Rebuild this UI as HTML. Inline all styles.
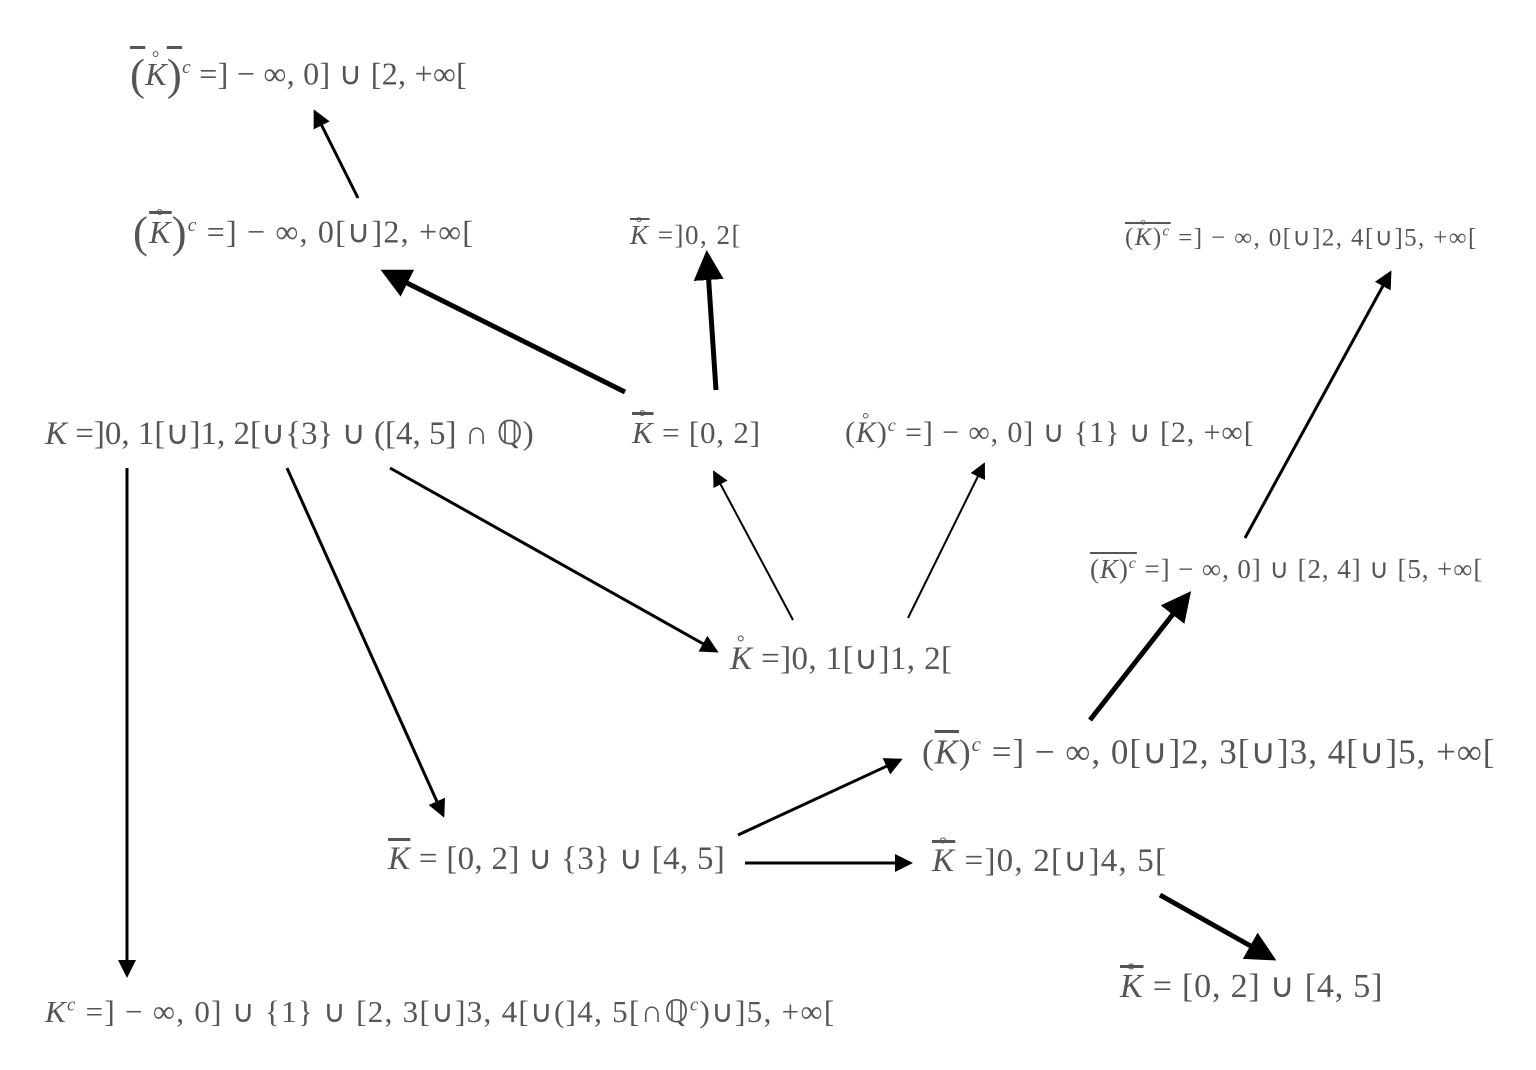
<!DOCTYPE html>
<html><head><meta charset="utf-8"><style>
html,body{margin:0;padding:0;background:#fff;width:1536px;height:1070px;overflow:hidden;position:relative}
.t{position:absolute;font-family:"Liberation Serif",serif;color:#555;white-space:nowrap;line-height:1}
i{font-style:italic}
.ov{text-decoration:overline}
.ring{position:relative;display:inline-block}
.ring:before{content:"°";position:absolute;left:30%;top:-0.45em;font-size:0.6em;font-style:normal}
sup{font-size:0.6em}
.big{font-size:1.4em;vertical-align:-0.1em}
svg{position:absolute;left:0;top:0}
</style></head><body>
<svg width="1536" height="1070" viewBox="0 0 1536 1070">
<defs>
<marker id="a" markerWidth="6" markerHeight="6" refX="5" refY="3" orient="auto" markerUnits="strokeWidth"><path d="M0,0 L6,3 L0,6 z" fill="#000"/></marker>
<marker id="b" markerWidth="8" markerHeight="8" refX="7" refY="4" orient="auto" markerUnits="strokeWidth"><path d="M0,0 L8,4 L0,8 z" fill="#000"/></marker>
</defs>
<g stroke="#000" fill="none">
<line x1="358" y1="198" x2="315" y2="112" stroke-width="3" marker-end="url(#a)"/>
<line x1="625" y1="392" x2="385" y2="272" stroke-width="5" marker-end="url(#a)"/>
<line x1="716" y1="390" x2="707" y2="255" stroke-width="5" marker-end="url(#a)"/>
<line x1="127" y1="468" x2="127" y2="975" stroke-width="3" marker-end="url(#a)"/>
<line x1="287" y1="468" x2="443" y2="815" stroke-width="3" marker-end="url(#a)"/>
<line x1="390" y1="468" x2="716" y2="651" stroke-width="3" marker-end="url(#a)"/>
<line x1="793" y1="620" x2="714" y2="472" stroke-width="2" marker-end="url(#b)"/>
<line x1="908" y1="618" x2="984" y2="464" stroke-width="2" marker-end="url(#b)"/>
<line x1="1245" y1="538" x2="1390" y2="273" stroke-width="3" marker-end="url(#a)"/>
<line x1="1090" y1="720" x2="1188" y2="595" stroke-width="5" marker-end="url(#a)"/>
<line x1="738" y1="835" x2="900" y2="760" stroke-width="3" marker-end="url(#a)"/>
<line x1="745" y1="863" x2="910" y2="863" stroke-width="3" marker-end="url(#a)"/>
<line x1="1160" y1="895" x2="1272" y2="958" stroke-width="5" marker-end="url(#a)"/>
</g></svg>

<div class="t" style="left:130px;top:52px;font-size:32px;letter-spacing:0.3px"><span class="ov"><span class="big">(</span><i class="ring">K</i><span class="big">)</span></span><sup><i>c</i></sup> =] − ∞, 0] ∪ [2, +∞[</div>
<div class="t" style="left:133px;top:210px;font-size:32px;letter-spacing:1.2px"><span class="big">(</span><i class="ring ov">K</i><span class="big">)</span><sup><i>c</i></sup> =] − ∞, 0[∪]2, +∞[</div>
<div class="t" style="left:630px;top:222px;font-size:27px;letter-spacing:1.5px"><i class="ring ov">K</i> =]0, 2[</div>
<div class="t" style="left:1125px;top:225px;font-size:25px;letter-spacing:1.4px"><span class="ov">(<i class="ring ov">K</i>)<sup><i>c</i></sup></span> =] − ∞, 0[∪]2, 4[∪]5, +∞[</div>
<div class="t" style="left:45px;top:418px;font-size:33px"><i>K</i> =]0, 1[∪]1, 2[∪{3} ∪ ([4, 5] ∩ ℚ)</div>
<div class="t" style="left:632px;top:417px;font-size:31px;letter-spacing:0.8px"><span class="ov"><i class="ring ov">K</i></span> = [0, 2]</div>
<div class="t" style="left:845px;top:416px;font-size:30px;letter-spacing:0.9px">(<i class="ring">K</i>)<sup><i>c</i></sup> =] − ∞, 0] ∪ {1} ∪ [2, +∞[</div>
<div class="t" style="left:1090px;top:555px;font-size:27px;letter-spacing:0.9px"><span class="ov">(<i class="ov">K</i>)<sup><i>c</i></sup></span> =] − ∞, 0] ∪ [2, 4] ∪ [5, +∞[</div>
<div class="t" style="left:730px;top:643px;font-size:33px;letter-spacing:0.4px"><i class="ring">K</i> =]0, 1[∪]1, 2[</div>
<div class="t" style="left:922px;top:734px;font-size:35px;letter-spacing:1px">(<i class="ov">K</i>)<sup><i>c</i></sup> =] − ∞, 0[∪]2, 3[∪]3, 4[∪]5, +∞[</div>
<div class="t" style="left:388px;top:843px;font-size:33px;letter-spacing:0.3px"><i class="ov">K</i> = [0, 2] ∪ {3} ∪ [4, 5]</div>
<div class="t" style="left:932px;top:845px;font-size:33px;letter-spacing:1.2px"><i class="ring ov">K</i> =]0, 2[∪]4, 5[</div>
<div class="t" style="left:1120px;top:970px;font-size:34px;letter-spacing:0.8px"><span class="ov"><i class="ring ov">K</i></span> = [0, 2] ∪ [4, 5]</div>
<div class="t" style="left:45px;top:996px;font-size:31px;letter-spacing:1.3px"><i>K</i><sup><i>c</i></sup> =] − ∞, 0] ∪ {1} ∪ [2, 3[∪]3, 4[∪(]4, 5[∩ℚ<sup><i>c</i></sup>)∪]5, +∞[</div>
</body></html>
